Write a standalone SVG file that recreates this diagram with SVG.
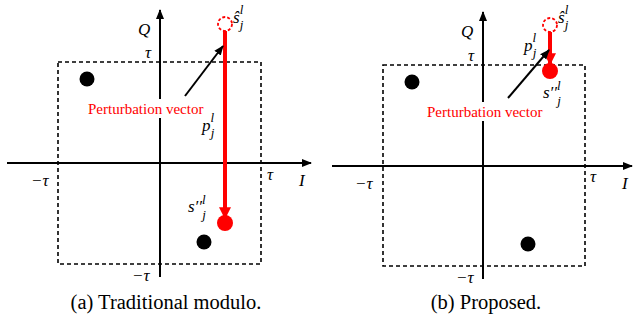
<svg xmlns="http://www.w3.org/2000/svg" width="634" height="328" viewBox="0 0 634 328">
<defs>
<marker id="ah" viewBox="0 0 10 10" refX="9" refY="5" markerWidth="5" markerHeight="5" orient="auto" markerUnits="strokeWidth"><path d="M0,1 L10,5 L0,9 Z" fill="#000"/></marker>
<marker id="rh" viewBox="0 0 10 10" refX="9" refY="5" markerWidth="3" markerHeight="3" orient="auto" markerUnits="strokeWidth"><path d="M0,0 L10,5 L0,10 Z" fill="#ff0000"/></marker>
</defs>
<rect width="634" height="328" fill="#fff"/>

<!-- Panel (a) -->
<g id="panel-a">
<rect x="58" y="62" width="203" height="202" fill="none" stroke="#000" stroke-width="1.6" stroke-dasharray="4,3"/>
<g id="connectors-a">
<line x1="7" y1="163" x2="311" y2="163" stroke="#000" stroke-width="2" marker-end="url(#ah)"/>
<line x1="160" y1="277" x2="160" y2="10" stroke="#000" stroke-width="2" marker-end="url(#ah)"/>
<line x1="225" y1="31" x2="225" y2="218" stroke="#ff0000" stroke-width="4" marker-end="url(#rh)"/>
<line x1="185" y1="96" x2="223" y2="46" stroke="#000" stroke-width="2" marker-end="url(#ah)"/>
</g>
<g id="dot-a1"><circle cx="87" cy="79" r="7.5" fill="#000"/></g>
<g id="dot-a2"><circle cx="204" cy="242" r="7.5" fill="#000"/></g>
<g id="shat-a"><circle cx="225" cy="24" r="7" fill="#fff" stroke="#ff0000" stroke-width="1.8" stroke-dasharray="3,2"/></g>
<g id="s2-a"><circle cx="225" cy="223" r="8" fill="#ff0000"/></g>
<g id="label-a">
<rect x="87" y="99" width="118" height="19" fill="#fff"/>
<text font-family="Liberation Serif" font-size="15" fill="#ff0000" x="88" y="114">Perturbation vector</text>
</g>
<g font-family="Liberation Serif" font-style="italic" font-size="17" fill="#000">
<text font-family="Liberation Serif" x="138" y="35">Q</text>
<text font-family="Liberation Serif" x="145" y="58">τ</text>
<text font-family="Liberation Serif" x="31" y="186">−τ</text>
<text font-family="Liberation Serif" x="267" y="180">τ</text>
<text font-family="Liberation Serif" x="299" y="186">I</text>
<text font-family="Liberation Serif" x="132" y="281">−τ</text>
<text font-family="Liberation Serif" x="233" y="23">ŝ<tspan font-size="13" dy="-9">l</tspan><tspan font-size="13" dx="-3.5" dy="15">j</tspan></text>
<text font-family="Liberation Serif" x="202" y="131">p<tspan font-size="13" dy="-9">l</tspan><tspan font-size="13" dx="-3.5" dy="15">j</tspan></text>
<text font-family="Liberation Serif" x="188" y="212">s′′<tspan font-size="13" dy="-8">l</tspan><tspan font-size="13" dx="-3.5" dy="15">j</tspan></text>
</g>
<text font-family="Liberation Serif" font-size="20.5" fill="#000" x="166" y="309" text-anchor="middle">(a) Traditional modulo.</text>
</g>

<!-- Panel (b) -->
<g id="panel-b">
<rect x="383" y="65" width="202" height="201" fill="none" stroke="#000" stroke-width="1.6" stroke-dasharray="4,3"/>
<g id="connectors-b">
<line x1="332" y1="166" x2="632" y2="166" stroke="#000" stroke-width="2" marker-end="url(#ah)"/>
<line x1="483" y1="279" x2="483" y2="12" stroke="#000" stroke-width="2" marker-end="url(#ah)"/>
<line x1="550" y1="32" x2="550" y2="64" stroke="#ff0000" stroke-width="4" marker-end="url(#rh)"/>
<line x1="508" y1="98" x2="549" y2="50" stroke="#000" stroke-width="2" marker-end="url(#ah)"/>
</g>
<g id="dot-b1"><circle cx="412" cy="82" r="7.5" fill="#000"/></g>
<g id="dot-b2"><circle cx="528" cy="244" r="7.5" fill="#000"/></g>
<g id="shat-b"><circle cx="550" cy="25" r="7" fill="#fff" stroke="#ff0000" stroke-width="1.8" stroke-dasharray="3,2"/></g>
<g id="s2-b"><circle cx="550" cy="71" r="8" fill="#ff0000"/></g>
<g id="label-b">
<rect x="426" y="102" width="118" height="19" fill="#fff"/>
<text font-family="Liberation Serif" font-size="15" fill="#ff0000" x="427" y="117">Perturbation vector</text>
</g>
<g font-family="Liberation Serif" font-style="italic" font-size="17" fill="#000">
<text font-family="Liberation Serif" x="461" y="37">Q</text>
<text font-family="Liberation Serif" x="468" y="61">τ</text>
<text font-family="Liberation Serif" x="355" y="189">−τ</text>
<text font-family="Liberation Serif" x="590" y="182">τ</text>
<text font-family="Liberation Serif" x="622" y="189">I</text>
<text font-family="Liberation Serif" x="456" y="283">−τ</text>
<text font-family="Liberation Serif" x="558" y="23">ŝ<tspan font-size="13" dy="-9">l</tspan><tspan font-size="13" dx="-3.5" dy="15">j</tspan></text>
<text font-family="Liberation Serif" x="524" y="51">p<tspan font-size="13" dy="-9">l</tspan><tspan font-size="13" dx="-3.5" dy="15">j</tspan></text>
<text font-family="Liberation Serif" x="543" y="98">s′′<tspan font-size="13" dy="-8">l</tspan><tspan font-size="13" dx="-3.5" dy="15">j</tspan></text>
</g>
<text font-family="Liberation Serif" font-size="20.5" fill="#000" x="486" y="309" text-anchor="middle">(b) Proposed.</text>
</g>
</svg>
